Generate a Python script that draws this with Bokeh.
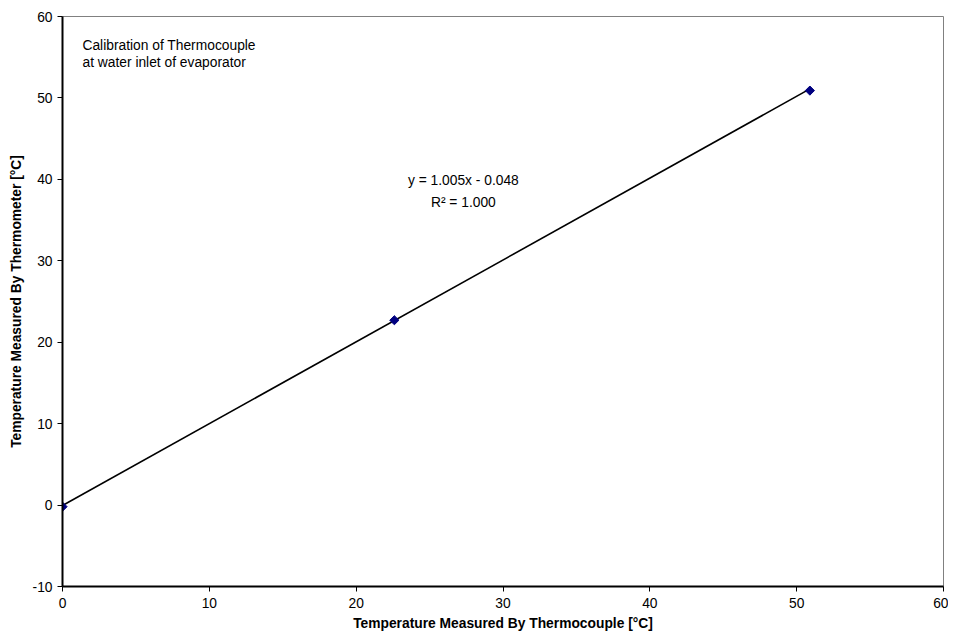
import math
from bokeh.plotting import figure
from bokeh.models import Range1d, Label, FixedTicker, PrintfTickFormatter
from bokeh.embed import file_html
from bokeh.resources import INLINE

# Data
thermocouple = [0.0, 22.6, 50.9]
thermometer = [-0.2, 22.7, 50.9]
slope = 1.005
intercept = -0.048
x_ticks = [0, 10, 20, 30, 40, 50, 60]
y_ticks = [-10, 0, 10, 20, 30, 40, 50, 60]
title_lines = ["Calibration of Thermocouple", "at water inlet of evaporator"]
eq_text = "y = 1.005x - 0.048"
r2_text = "R\u00b2 = 1.000"

FONT = "Liberation Sans"
FS = "13.8px"

p = figure(width=948, height=634, output_backend="svg", toolbar_location=None,
           x_range=Range1d(0, 60), y_range=Range1d(-10, 60),
           min_border_left=62, min_border_right=5, min_border_top=16, min_border_bottom=48)
p.background_fill_color = "white"
p.border_fill_color = "white"
p.outline_line_color = "#808080"
p.outline_line_width = 1
p.xgrid.visible = False
p.ygrid.visible = False

for ax in (p.xaxis[0], p.yaxis[0]):
    ax.axis_line_color = "black"
    ax.axis_line_width = 2
    ax.major_tick_line_color = "black"
    ax.major_tick_line_width = 1
    ax.major_tick_out = 5
    ax.major_tick_in = 0
    ax.minor_tick_line_color = None
    ax.major_label_text_font = FONT
    ax.major_label_text_font_size = FS
    ax.major_label_text_color = "black"
    ax.axis_label_text_font = FONT
    ax.axis_label_text_font_size = FS
    ax.axis_label_text_font_style = "bold"
    ax.axis_label_text_color = "black"
    ax.formatter = PrintfTickFormatter(format="%d")

p.xaxis.ticker = FixedTicker(ticks=x_ticks)
p.yaxis.ticker = FixedTicker(ticks=y_ticks)
p.xaxis.axis_label = "Temperature Measured By Thermocouple [\u00b0C]"
p.yaxis.axis_label = "Temperature Measured By Thermometer [\u00b0C]"
p.xaxis.major_label_standoff = 6
p.yaxis.major_label_standoff = 5
p.xaxis.axis_label_standoff = 5
p.yaxis.axis_label_standoff = 6

# trend line over data range
xmin, xmax = min(thermocouple), max(thermocouple)
p.line([xmin, xmax], [slope * xmin + intercept, slope * xmax + intercept],
       line_color="black", line_width=1.6)

p.scatter(thermocouple, thermometer, marker="square", size=6.5, angle=math.pi / 4,
          fill_color="#000080", line_color="#000080")

title_y = [56.5, 54.3]
for t, ty in zip(title_lines, title_y):
    p.add_layout(Label(x=1.36, y=ty, text=t, text_font=FONT,
                       text_font_size=FS, text_baseline="middle", text_color="black"))

p.add_layout(Label(x=27.3, y=39.85, text=eq_text, text_font=FONT, text_font_size=FS,
                   text_align="center", text_baseline="middle", text_color="black"))
p.add_layout(Label(x=27.3, y=37.2, text=r2_text, text_font=FONT, text_font_size=FS,
                   text_align="center", text_baseline="middle", text_color="black"))

open("out.html", "w").write(file_html(p, INLINE))
